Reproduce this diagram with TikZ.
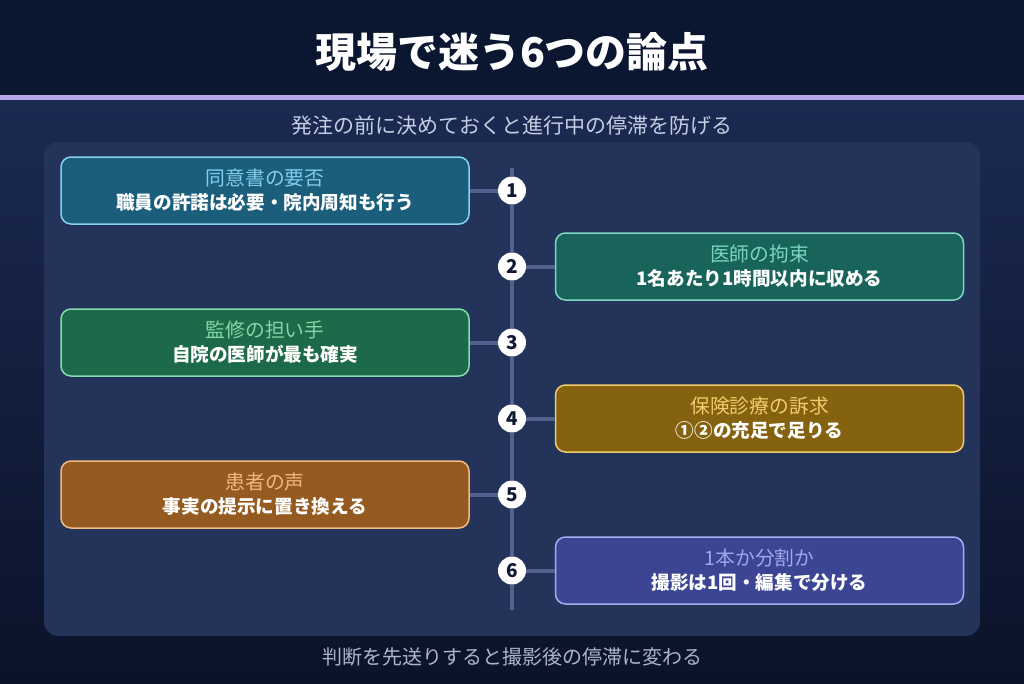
\documentclass[tikz,border=0pt]{standalone}
\usepackage{fontspec}
\setmainfont{Noto Sans CJK JP}
\usetikzlibrary{positioning}

\definecolor{bandbg}{HTML}{0B1631}
\definecolor{bgtop}{HTML}{1B2A52}
\definecolor{bgbot}{HTML}{0B1329}
\definecolor{accent}{HTML}{B8A3EE}
\definecolor{panelbg}{HTML}{243359}
\definecolor{spinecol}{HTML}{51628F}
\definecolor{numtext}{HTML}{111A33}
\definecolor{subtext}{HTML}{C5CDE3}
\definecolor{foottext}{HTML}{AAB4CC}
% box colours: fill / line / heading
\definecolor{cfillA}{HTML}{1A5E7C}\definecolor{clineA}{HTML}{86D2F2}\definecolor{cheadA}{HTML}{82CDEA}
\definecolor{cfillB}{HTML}{18645A}\definecolor{clineB}{HTML}{7ED8C4}\definecolor{cheadB}{HTML}{78D4BB}
\definecolor{cfillC}{HTML}{1D6A4A}\definecolor{clineC}{HTML}{86DCAE}\definecolor{cheadC}{HTML}{80D6A4}
\definecolor{cfillD}{HTML}{85620F}\definecolor{clineD}{HTML}{F0CC6C}\definecolor{cheadD}{HTML}{F0CC6C}
\definecolor{cfillE}{HTML}{955A20}\definecolor{clineE}{HTML}{F4B982}\definecolor{cheadE}{HTML}{F4B57C}
\definecolor{cfillF}{HTML}{3B4594}\definecolor{clineF}{HTML}{A5AEF3}\definecolor{cheadF}{HTML}{9EA6EC}

\tikzset{
  itembox/.style={rounded corners=10pt, line width=1.5pt, minimum width=408pt,
    minimum height=67pt, align=center, text=white, inner sep=0pt,
    font=\fontsize{18.6}{24}\selectfont},
  itemhead/.style={font=\fontsize{19.8}{24}\selectfont},
  numdot/.style={circle, fill=white, minimum size=28pt, inner sep=0pt,
    text=numtext, font=\bfseries\fontsize{19}{19}\selectfont},
  spine/.style={line width=4pt, spinecol}
}
\newcommand{\headline}[2]{{\color{#1}\fontsize{19.8}{24}\selectfont #2}}

\begin{document}
\begin{tikzpicture}[x=1pt, y=-1pt]
  \useasboundingbox (0,0) rectangle (1024,683);
  % background
  \shade[top color=bgtop, bottom color=bgbot] (0,97) rectangle (1024,683);
  \fill[bandbg] (0,0) rectangle (1024,97);
  \fill[accent] (0,94.5) rectangle (1024,99.5);
  \fill[panelbg, rounded corners=14pt] (44,142) rectangle (980,636);

  \node[text=white, font=\bfseries\fontsize{41}{41}\selectfont] (title) at (512,52) {現場で迷う6つの論点};
  \node[text=subtext, font=\fontsize{21}{21}\selectfont] (subtitle) at (512,126) {発注の前に決めておくと進行中の停滞を防げる};

  % numbered markers on the spine
  \foreach \i/\y in {1/190.5, 2/266.5, 3/342.5, 4/418.5, 5/494.5, 6/570.5}
    \node[numdot] (num\i) at (512,\y) {\i};
  \coordinate (spinetop) at (512,168);
  \coordinate (spinebot) at (512,610);
  \draw[spine] (spinetop) -- (num1) -- (num2) -- (num3) -- (num4) -- (num5) -- (num6) -- (spinebot);

  % items
  \node[itembox, fill=cfillA, draw=clineA] (box1) at (265,190.5)
    {\headline{cheadA}{同意書の要否}\\ \bfseries 職員の許諾は必要・院内周知も行う};
  \node[itembox, fill=cfillB, draw=clineB] (box2) at (759.5,266.5)
    {\headline{cheadB}{医師の拘束}\\ \bfseries 1名あたり1時間以内に収める};
  \node[itembox, fill=cfillC, draw=clineC] (box3) at (265,342.5)
    {\headline{cheadC}{監修の担い手}\\ \bfseries 自院の医師が最も確実};
  \node[itembox, fill=cfillD, draw=clineD] (box4) at (759.5,418.5)
    {\headline{cheadD}{保険診療の訴求}\\ \bfseries ①②の充足で足りる};
  \node[itembox, fill=cfillE, draw=clineE] (box5) at (265,494.5)
    {\headline{cheadE}{患者の声}\\ \bfseries 事実の提示に置き換える};
  \node[itembox, fill=cfillF, draw=clineF] (box6) at (759.5,570.5)
    {\headline{cheadF}{1本か分割か}\\ \bfseries 撮影は1回・編集で分ける};

  \draw[spine] (box1.east) -- (num1);
  \draw[spine] (box2.west) -- (num2);
  \draw[spine] (box3.east) -- (num3);
  \draw[spine] (box4.west) -- (num4);
  \draw[spine] (box5.east) -- (num5);
  \draw[spine] (box6.west) -- (num6);

  \node[text=foottext, font=\fontsize{20}{20}\selectfont] (footer) at (512,657) {判断を先送りすると撮影後の停滞に変わる};
\end{tikzpicture}
\end{document}
